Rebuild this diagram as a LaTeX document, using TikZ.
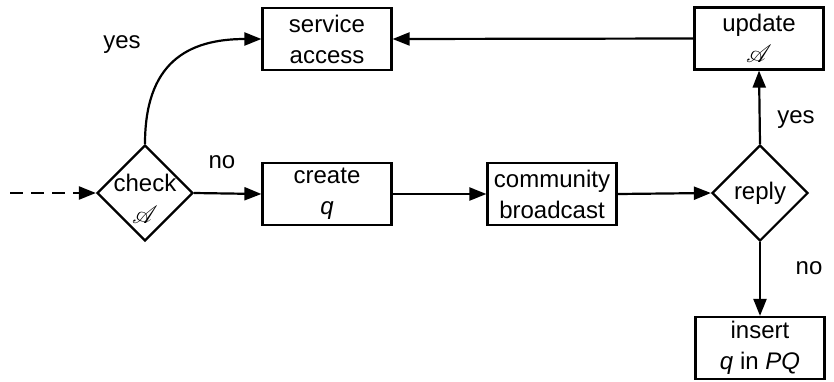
\documentclass[tikz,border=0pt]{standalone}
\usepackage{fontspec}
\setmainfont{Liberation Sans}
\usepackage{mathrsfs}
\usetikzlibrary{arrows.meta,shapes.geometric}
\newcommand\myA{{\fontsize{23}{23}\selectfont$\mathscr{A}$}}
\begin{document}
\begin{tikzpicture}[x=1pt,y=-1pt,
  box/.style={draw,line width=2.2pt,minimum width=129pt,minimum height=62pt,inner sep=0pt,align=center,font=\fontsize{24}{31}\selectfont},
  dia/.style={draw,diamond,line width=2.2pt,minimum width=96pt,minimum height=96pt,inner sep=0pt},
  txt/.style={align=center,inner sep=0pt,font=\fontsize{24}{32}\selectfont},
  lbl/.style={font=\fontsize{24}{31}\selectfont,inner sep=0pt},
  arr/.style={line width=2.2pt,-{Triangle[length=17pt,width=13pt]}},
]
\useasboundingbox (0,0) rectangle (834,381);
\node[box] (sa) at (327,39) {service\\access};
\node[box] (upd) at (759,38.5) {update\\\myA};
\node[dia] (check) at (145,193) {};
\node[txt] (checkt) at (145,199) {check\\\myA};
\node[box] (create) at (327,194) {create\\\textit{q}};
\node[box] (cb) at (552,194) {community\\broadcast};
\node[dia] (reply) at (760,193) {};
\node[txt] (replyt) at (760,193) {reply};
\node[box] (ins) at (760,348) {insert\\\textit{q} in \textit{PQ}};
\coordinate (start) at (10,193);
\draw[arr,dash pattern=on 13pt off 8pt] (start) -- (check.west);
\draw[arr] (check.east) -- (create.west);
\draw[arr] (create.east) -- (cb.west);
\draw[arr] (cb.east) -- (reply.west);
\draw[arr] (reply.north) -- (upd.south);
\draw[arr] (reply.south) -- (ins.north);
\draw[arr] (upd.west) -- (sa.east);
\draw[arr] (check.north) .. controls +(0,-80) and +(-75,0) .. (sa.west);
\node[lbl] (lyes1) at (122,45) {yes};
\node[lbl] (lno1) at (222,162) {no};
\node[lbl] (lyes2) at (796,120) {yes};
\node[lbl] (lno2) at (809,268) {no};
\end{tikzpicture}
\end{document}
